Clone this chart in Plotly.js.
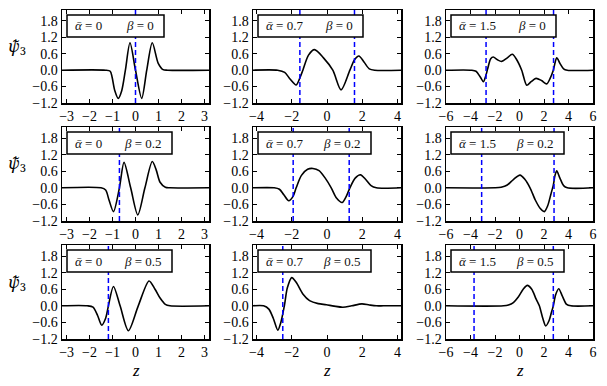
<!DOCTYPE html>
<html>
<head>
<meta charset="utf-8">
<script src="https://cdn.plot.ly/plotly-3.0.1.min.js"></script>
<style>
  html, body { margin: 0; padding: 0; background: #fff; }
  #chart { width: 607px; height: 386px; }
</style>
</head>
<body>
<div id="chart"></div>
<script>
// rows = beta, columns = alpha bar
var alphaLabels = ['0', '0.7', '1.5'];
var betaLabels = ['0', '0.2', '0.5'];

// z range and ticks of each column
var zLimits = [3.2, 4.2, 6];
var zTicks = [[-3, -2, -1, 0, 1, 2, 3], [-4, -2, 0, 2, 4], [-6, -4, -2, 0, 2, 4, 6]];
var psiTicks = [-1.2, -0.6, 0, 0.6, 1.2, 1.8];

// --- beta = 0 ---
var z_b0_a0 = [-3.2, -1.3, -1.1, -1.02, -0.9, -0.75, -0.6, -0.44, -0.24, 0, 0.27, 0.49, 0.73, 0.99, 1.2, 1.4, 3.2];
var psi_b0_a0 = [0, 0, -0.04, -0.25, -0.75, -1.03, -0.75, 0, 1.0, 0, -1.03, 0, 1.0, 0.25, 0.02, 0, 0];
var edges_b0_a0 = [0];

var z_b0_a1 = [-4.2, -2.8, -2.4, -2.1, -1.75, -1.52, -1.37, -1.05, -0.71, -0.2, 0.33, 0.8, 1.3, 1.56, 1.81, 2.1, 2.4, 2.7, 4.2];
var psi_b0_a1 = [0, 0, -0.08, -0.32, -0.54, -0.25, 0, 0.55, 0.75, 0.45, 0, -0.72, 0, 0.38, 0.52, 0.3, 0.05, 0, 0];
var edges_b0_a1 = [-1.54, 1.56];

var z_b0_a2 = [-6, -3.9, -3.55, -3.2, -2.95, -2.75, -2.6, -2.35, -2.14, -1.8, -1.46, -1.0, -0.59, -0.25, 0.18, 0.59, 0.95, 1.35, 1.8, 2.22, 2.5, 2.76, 3.04, 3.3, 3.6, 3.9, 6];
var psi_b0_a2 = [0, 0, -0.04, -0.25, -0.42, -0.2, 0.05, 0.42, 0.48, 0.38, 0.32, 0.45, 0.58, 0.4, 0, -0.55, -0.42, -0.3, -0.38, -0.5, -0.3, 0, 0.45, 0.25, 0.05, 0, 0];
var edges_b0_a2 = [-2.73, 2.78];

// --- beta = 0.2 ---
var z_b1_a0 = [-3.2, -1.5, -1.3, -1.15, -0.96, -0.7, -0.5, -0.21, 0.1, 0.41, 0.73, 0.9, 1.07, 1.3, 1.5, 3.2];
var psi_b1_a0 = [0, 0, -0.08, -0.45, -0.86, 0, 0.92, 0, -0.98, 0, 0.95, 0.65, 0.2, 0.02, 0, 0];
var edges_b1_a0 = [-0.7];

var z_b1_a1 = [-4.2, -3.0, -2.7, -2.45, -2.17, -1.92, -1.75, -1.45, -1.1, -0.8, -0.45, -0.1, 0.24, 0.55, 0.86, 1.1, 1.3, 1.6, 1.9, 2.2, 2.5, 2.8, 4.2];
var psi_b1_a1 = [0, 0, -0.05, -0.25, -0.47, -0.3, 0, 0.45, 0.67, 0.7, 0.62, 0.35, 0, -0.38, -0.53, -0.3, 0, 0.35, 0.47, 0.3, 0.08, 0, 0];
var edges_b1_a1 = [-1.92, 1.26];

var z_b1_a2 = [-6, -2.0, -1.5, -1.0, -0.5, 0.04, 0.45, 0.86, 1.3, 1.7, 2.02, 2.3, 2.55, 2.76, 2.9, 3.04, 3.3, 3.6, 3.9, 6];
var psi_b1_a2 = [0, 0, 0.02, 0.1, 0.3, 0.46, 0.3, 0, -0.45, -0.75, -0.86, -0.65, -0.25, 0.1, 0.45, 0.62, 0.35, 0.08, 0, 0];
var edges_b1_a2 = [-3.09, 2.82];

// --- beta = 0.5 ---
var z_b2_a0 = [-3.2, -2.1, -1.85, -1.65, -1.47, -1.3, -1.18, -0.96, -0.67, -0.31, 0.12, 0.59, 0.85, 1.07, 1.3, 1.5, 3.2];
var psi_b2_a0 = [0, 0, -0.05, -0.35, -0.7, -0.45, 0, 0.7, 0, -0.9, 0, 0.9, 0.6, 0.28, 0.05, 0, 0];
var edges_b2_a0 = [-1.18];

var z_b2_a1 = [-4.2, -3.6, -3.3, -3.05, -2.79, -2.62, -2.42, -2.25, -2.0, -1.75, -1.37, -0.99, -0.5, -0.04, 0.4, 0.9, 1.4, 1.98, 2.4, 2.8, 3.2, 4.2];
var psi_b2_a1 = [0, 0, -0.12, -0.45, -0.88, -0.6, 0, 0.65, 1.02, 0.85, 0.43, 0.19, 0.08, 0.04, -0.01, -0.05, 0.0, 0.07, 0.03, 0, 0, 0];
var edges_b2_a1 = [-2.51];

var z_b2_a2 = [-6, -1.3, -0.9, -0.5, -0.1, 0.3, 0.64, 1.0, 1.35, 1.62, 1.9, 2.14, 2.4, 2.6, 2.76, 2.95, 3.2, 3.5, 3.85, 4.2, 6];
var psi_b2_a2 = [0, 0, 0.03, 0.12, 0.32, 0.6, 0.74, 0.6, 0.25, 0, -0.45, -0.73, -0.55, -0.25, 0, 0.4, 0.62, 0.35, 0.05, 0, 0];
var edges_b2_a2 = [-3.71, 2.76];

var curves = [
    [z_b0_a0, psi_b0_a0, edges_b0_a0], [z_b0_a1, psi_b0_a1, edges_b0_a1], [z_b0_a2, psi_b0_a2, edges_b0_a2],
    [z_b1_a0, psi_b1_a0, edges_b1_a0], [z_b1_a1, psi_b1_a1, edges_b1_a1], [z_b1_a2, psi_b1_a2, edges_b1_a2],
    [z_b2_a0, psi_b2_a0, edges_b2_a0], [z_b2_a1, psi_b2_a1, edges_b2_a1], [z_b2_a2, psi_b2_a2, edges_b2_a2]
];

// panel boxes in pixels
var W = 607, H = 386;
var colPx = [[62, 209], [253, 401], [446, 593]];
var rowPx = [[10, 103], [127, 221], [245, 339]];
var serif = 'Liberation Serif';
var tickFont = { family: serif, size: 14, color: '#000' };

var traces = [];
var shapes = [];
var annotations = [];
var layout = {
    width: W, height: H,
    margin: { l: 0, r: 0, t: 0, b: 0 },
    paper_bgcolor: '#fff', plot_bgcolor: '#fff',
    showlegend: false,
    font: { family: serif, size: 13, color: '#000' }
};

for (var r = 0; r < 3; r++) {
    for (var c = 0; c < 3; c++) {
        var i = r * 3 + c;
        var n = i === 0 ? '' : String(i + 1);
        var cv = curves[i];

        traces.push({
            x: cv[0], y: cv[1],
            xaxis: 'x' + n, yaxis: 'y' + n,
            mode: 'lines',
            line: { color: '#000', width: 1.6, shape: 'spline', smoothing: 0.8 },
            hoverinfo: 'skip'
        });

        var axStyle = {
            showgrid: false, zeroline: false,
            showline: true, linecolor: '#000', linewidth: 1.5,
            mirror: 'allticks', ticks: 'inside', ticklen: 4, tickwidth: 1, tickcolor: '#000',
            tickfont: tickFont
        };
        layout['xaxis' + n] = Object.assign({}, axStyle, {
            domain: [colPx[c][0] / W, colPx[c][1] / W],
            range: [-zLimits[c], zLimits[c]],
            tickvals: zTicks[c],
            anchor: 'y' + n
        });
        layout['yaxis' + n] = Object.assign({}, axStyle, {
            domain: [1 - rowPx[r][1] / H, 1 - rowPx[r][0] / H],
            range: [-1.2, 2.2],
            tickvals: psiTicks,
            tickformat: '.1f',
            anchor: 'x' + n
        });

        // dashed blue lines
        cv[2].forEach(function (ze) {
            shapes.push({
                type: 'line', xref: 'x' + n, yref: 'y' + n + ' domain',
                x0: ze, x1: ze, y0: 0, y1: 1,
                line: { color: '#0000ff', width: 1.5, dash: '5px,3px' }
            });
        });

        // label box in the top left corner
        var pw = colPx[c][1] - colPx[c][0];
        var ph = rowPx[r][1] - rowPx[r][0];
        var bw = 89 + 4 * (alphaLabels[c].length + betaLabels[r].length);
        var bx0 = 5 / pw, bx1 = (5 + bw) / pw;
        var by0 = 1 - 27 / ph, by1 = 1 - 5 / ph;
        shapes.push({
            type: 'rect', xref: 'x' + n + ' domain', yref: 'y' + n + ' domain',
            x0: bx0, x1: bx1, y0: by0, y1: by1,
            fillcolor: '#fff', line: { color: '#000', width: 1.5 }, layer: 'above'
        });
        annotations.push({
            xref: 'x' + n + ' domain', yref: 'y' + n + ' domain',
            x: bx0 + 6 / pw, y: (by0 + by1) / 2, xanchor: 'left', yanchor: 'middle',
            text: '<i>ᾱ</i> = ' + alphaLabels[c], showarrow: false,
            font: { family: serif, size: 13, color: '#111' }
        });
        annotations.push({
            xref: 'x' + n + ' domain', yref: 'y' + n + ' domain',
            x: bx1 - 8 / pw, y: (by0 + by1) / 2, xanchor: 'right', yanchor: 'middle',
            text: '<i>β</i> = ' + betaLabels[r], showarrow: false,
            font: { family: serif, size: 13, color: '#111' }
        });
    }
    // y label of the row
    annotations.push({
        xref: 'paper', yref: 'paper',
        x: 17 / W, y: 1 - (rowPx[r][0] + 37) / H,
        xanchor: 'center', yanchor: 'middle',
        text: '<i>ψ̃</i><sub>3</sub>', showarrow: false,
        font: { family: 'Noto Serif', size: 16, color: '#000' }
    });
}

// z labels under the bottom row
for (var c2 = 0; c2 < 3; c2++) {
    annotations.push({
        xref: 'paper', yref: 'paper',
        x: (colPx[c2][0] + colPx[c2][1]) / 2 / W, y: 1 - 370 / H,
        xanchor: 'center', yanchor: 'middle',
        text: '<i>z</i>', showarrow: false,
        font: { family: serif, size: 17, color: '#000' }
    });
}

layout.shapes = shapes;
layout.annotations = annotations;

Plotly.newPlot('chart', traces, layout, { staticPlot: true });
</script>
</body>
</html>
